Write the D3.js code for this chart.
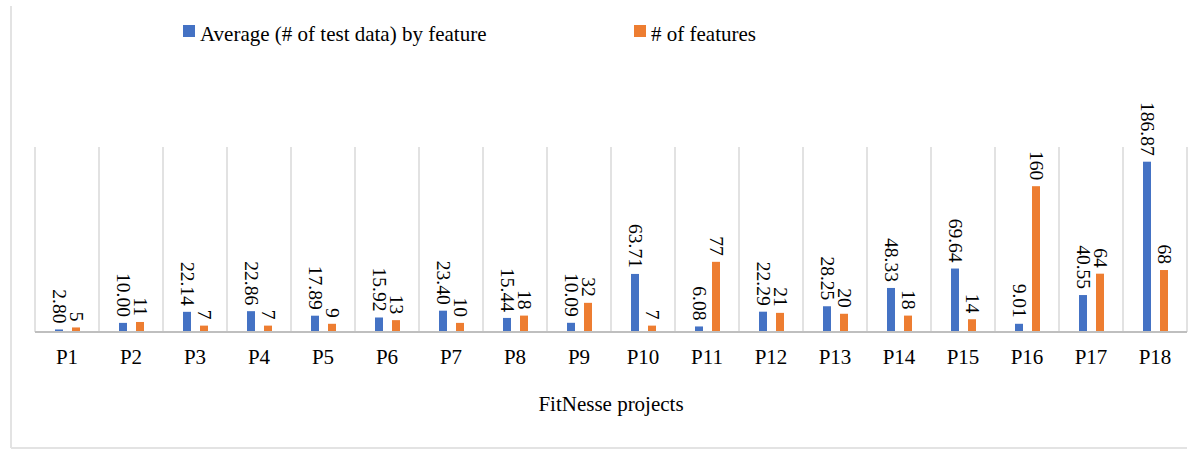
<!DOCTYPE html>
<html>
<head>
<meta charset="utf-8">
<script src="https://cdn.jsdelivr.net/npm/d3@7"></script>
<style>
  body { margin: 0; background: #fff; }
  text { font-family: "Liberation Serif", "Times New Roman", serif; fill: #000; }
</style>
</head>
<body>
<div id="chart"></div>
<script>
var projects = ["P1","P2","P3","P4","P5","P6","P7","P8","P9","P10","P11","P12","P13","P14","P15","P16","P17","P18"];
var avgTestData = [2.80,10.00,22.14,22.86,17.89,15.92,23.40,15.44,10.09,63.71,6.08,22.29,28.25,48.33,69.64,9.01,40.55,186.87];
var numFeatures = [5,11,7,7,9,13,10,18,32,7,77,21,20,18,14,160,64,68];
var seriesNames = ["Average (# of test data) by feature", "# of features"];
var colors = ["#4472C4", "#ED7D31"];

var width = 1188, height = 450;
var svg = d3.select("#chart").append("svg")
    .attr("width", width)
    .attr("height", height);

// chart frame (only left and bottom edges are visible)
svg.append("line").attr("x1", 11).attr("x2", 11).attr("y1", 6).attr("y2", 448)
    .style("stroke", "#e3e3e3").style("stroke-width", 2);
svg.append("line").attr("x1", 11).attr("x2", 1187).attr("y1", 448).attr("y2", 448)
    .style("stroke", "#e3e3e3").style("stroke-width", 2);

var left = 35, right = 1187, baseY = 332, topY = 147;

var x = d3.scaleBand().domain(projects).range([left, right]).padding(0);
var xSub = d3.scaleBand().domain([0, 1]).range([20, 45]).paddingInner(0.53);
var y = d3.scaleLinear().domain([0, 203]).range([baseY, topY]);

// vertical gridlines between categories
var bounds = projects.map(function(p){ return x(p); }).concat([right]);
svg.selectAll(".grid").data(bounds).enter().append("line")
    .attr("class", "grid")
    .attr("x1", function(d){ return d; })
    .attr("x2", function(d){ return d; })
    .attr("y1", topY)
    .attr("y2", baseY)
    .style("stroke", "#d9d9d9")
    .style("stroke-width", 1.5);

var rows = projects.map(function(p, i){
    return {p: p, vals: [avgTestData[i], numFeatures[i]]};
});

var groups = svg.selectAll(".grp").data(rows).enter().append("g")
    .attr("class", "grp")
    .attr("transform", function(d){ return "translate(" + x(d.p) + ",0)"; });

groups.selectAll("rect").data(function(d){ return d.vals; }).enter().append("rect")
    .attr("x", function(d, i){ return xSub(i); })
    .attr("width", xSub.bandwidth())
    .attr("y", function(d){ return y(d); })
    .attr("height", function(d){ return baseY - y(d); })
    .attr("fill", function(d, i){ return colors[i]; });

// rotated value labels
groups.selectAll(".lbl").data(function(d){ return d.vals; }).enter().append("text")
    .attr("class", "lbl")
    .attr("transform", function(d, i){
        return "translate(" + (xSub(i) + xSub.bandwidth() / 2) + "," + (y(d) - 6) + ") rotate(90)";
    })
    .attr("text-anchor", "end")
    .attr("dy", "0.33em")
    .style("font-size", "19.5px")
    .text(function(d, i){ return i == 0 ? d.toFixed(2) : d3.format("d")(d); });

// baseline
svg.append("line").attr("x1", left).attr("x2", right).attr("y1", baseY).attr("y2", baseY)
    .style("stroke", "#bfbfbf").style("stroke-width", 2);

// category labels
svg.selectAll(".cat").data(projects).enter().append("text")
    .attr("class", "cat")
    .attr("x", function(d){ return x(d) + x.bandwidth() / 2; })
    .attr("y", 364)
    .attr("text-anchor", "middle")
    .style("font-size", "21px")
    .text(function(d){ return d; });

svg.append("text")
    .attr("x", (left + right) / 2)
    .attr("y", 411)
    .attr("text-anchor", "middle")
    .style("font-size", "21px")
    .text("FitNesse projects");

// legend
var legendX = [183, 634];
var legend = svg.selectAll(".leg").data(seriesNames).enter().append("g")
    .attr("class", "leg")
    .attr("transform", function(d, i){ return "translate(" + legendX[i] + ",0)"; });
legend.append("rect")
    .attr("x", 0).attr("y", 25).attr("width", 12).attr("height", 12)
    .attr("fill", function(d, i){ return colors[i]; });
legend.append("text")
    .attr("x", 17).attr("y", 41)
    .style("font-size", "21px")
    .text(function(d){ return d; });
</script>
</body>
</html>
